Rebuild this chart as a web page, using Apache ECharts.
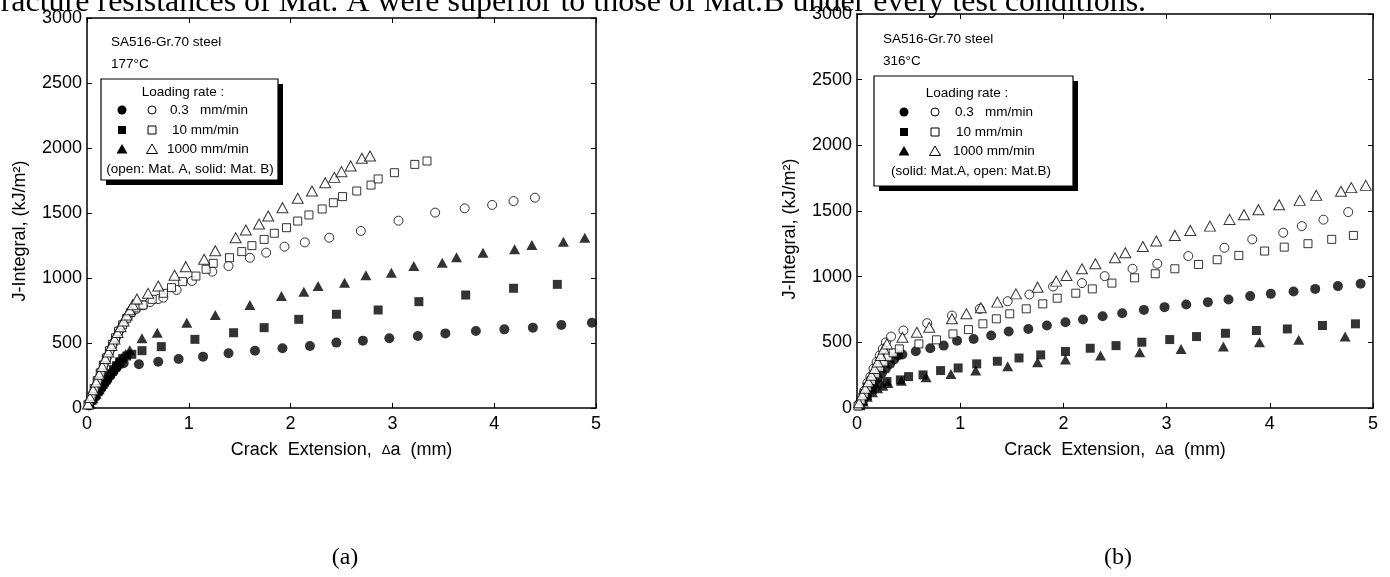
<!DOCTYPE html>
<html>
<head>
<meta charset="utf-8">
<script src="https://cdn.jsdelivr.net/npm/echarts@6/dist/echarts.min.js"></script>
<style>
  html, body { margin: 0; padding: 0; background: #fff; }
  #chart { width: 1390px; height: 577px; }
</style>
</head>
<body>
<div id="chart"></div>
<script>
// ---- Axis ticks ----
const xTicks = [0, 1, 2, 3, 4, 5];
const yTicks = [0, 500, 1000, 1500, 2000, 2500, 3000];

// ---- (a) 177 °C : open = Mat. A, solid = Mat. B ----  [crack extension (mm), J (kJ/m2)]
const t177_matA_03 = [
  [0.02,40],[0.05,100],[0.08,160],[0.11,220],[0.14,280],[0.17,340],[0.20,395],[0.23,450],
  [0.26,500],[0.29,550],[0.32,600],[0.36,650],[0.40,700],[0.44,740],[0.48,760],[0.55,790],
  [0.62,815],[0.70,838],[0.75,849],[0.88,908],[1.03,977],[1.23,1049],[1.39,1092],[1.60,1156],
  [1.76,1195],[1.94,1241],[2.14,1274],[2.38,1310],[2.69,1362],[3.06,1441],[3.42,1503],
  [3.71,1536],[3.98,1562],[4.19,1592],[4.40,1618]
];
const t177_matA_10 = [
  [0.01,25],[0.04,90],[0.07,150],[0.10,210],[0.13,270],[0.16,330],[0.19,385],[0.22,440],
  [0.25,490],[0.28,540],[0.31,590],[0.35,640],[0.39,690],[0.43,735],[0.48,770],[0.55,792],
  [0.64,836],[0.75,882],[0.83,926],[0.94,972],[1.07,1015],[1.17,1067],[1.24,1113],[1.40,1156],
  [1.52,1203],[1.62,1249],[1.74,1297],[1.84,1344],[1.96,1387],[2.07,1438],[2.18,1485],
  [2.31,1531],[2.42,1579],[2.51,1626],[2.65,1669],[2.79,1715],[2.86,1762],[3.02,1810],
  [3.22,1874],[3.34,1900]
];
const t177_matA_1000 = [
  [0.01,30],[0.03,80],[0.06,140],[0.09,200],[0.12,260],[0.15,320],[0.18,380],[0.21,430],
  [0.24,480],[0.27,530],[0.30,580],[0.33,625],[0.36,670],[0.39,715],[0.42,755],[0.45,795],
  [0.49,838],[0.60,882],[0.70,938],[0.86,1021],[0.97,1087],[1.15,1144],[1.26,1210],
  [1.46,1310],[1.56,1369],[1.69,1415],[1.78,1477],[1.92,1541],[2.07,1613],[2.21,1669],
  [2.34,1733],[2.43,1774],[2.50,1818],[2.59,1862],[2.70,1921],[2.78,1938]
];
const t177_matB_03 = [
  [0.02,20],[0.05,55],[0.08,85],[0.11,120],[0.14,150],[0.17,185],[0.20,215],[0.23,250],
  [0.26,280],[0.29,310],[0.32,335],[0.36,345],[0.51,336],[0.70,356],[0.90,377],[1.14,395],
  [1.39,421],[1.65,441],[1.92,459],[2.19,477],[2.45,503],[2.71,518],[2.97,536],[3.25,554],
  [3.52,574],[3.82,592],[4.10,605],[4.38,618],[4.66,638],[4.96,656]
];
const t177_matB_10 = [
  [0.02,25],[0.05,60],[0.08,95],[0.11,130],[0.14,165],[0.17,200],[0.20,235],[0.23,265],
  [0.26,295],[0.29,325],[0.32,355],[0.35,380],[0.39,400],[0.44,413],[0.54,441],[0.73,472],
  [1.06,528],[1.44,579],[1.74,618],[2.08,682],[2.45,721],[2.86,754],[3.26,818],[3.72,869],
  [4.19,921],[4.62,951],[5.01,977]
];
const t177_matB_1000 = [
  [0.03,35],[0.06,75],[0.09,110],[0.12,145],[0.15,185],[0.18,220],[0.21,255],[0.24,290],
  [0.27,325],[0.30,355],[0.34,385],[0.38,415],[0.42,445],[0.54,536],[0.69,579],[0.98,656],
  [1.26,715],[1.60,792],[1.91,862],[2.13,895],[2.27,938],[2.53,964],[2.74,1021],[2.99,1041],
  [3.21,1092],[3.49,1118],[3.63,1159],[3.89,1195],[4.20,1221],[4.37,1254],[4.68,1279],[4.89,1310]
];

// ---- (b) 316 °C : solid = Mat. A, open = Mat. B ----
const t316_matA_03 = [
  [0.04,50],[0.08,95],[0.12,140],[0.16,185],[0.20,225],[0.24,265],[0.28,300],[0.32,335],
  [0.36,370],[0.40,400],[0.44,407],[0.57,432],[0.71,455],[0.84,475],[0.97,513],[1.13,526],
  [1.30,552],[1.47,582],[1.66,602],[1.84,628],[2.02,653],[2.19,674],[2.38,699],[2.57,722],
  [2.78,747],[2.98,768],[3.19,788],[3.40,806],[3.60,826],[3.81,852],[4.01,869],[4.23,887],
  [4.44,907],[4.66,928],[4.88,946]
];
const t316_matA_10 = [
  [0.03,25],[0.06,55],[0.10,95],[0.15,140],[0.20,183],[0.29,201],[0.42,214],[0.50,239],
  [0.64,252],[0.81,285],[0.98,305],[1.16,336],[1.36,356],[1.57,381],[1.78,404],[2.02,430],
  [2.26,455],[2.51,475],[2.76,501],[3.03,521],[3.29,544],[3.57,569],[3.87,590],[4.17,602],
  [4.51,628],[4.83,641]
];
const t316_matA_1000 = [
  [0.03,20],[0.06,50],[0.10,85],[0.15,120],[0.20,150],[0.25,170],[0.30,190],[0.43,208],
  [0.67,234],[0.91,259],[1.15,285],[1.46,318],[1.75,348],[2.02,369],[2.36,399],[2.74,425],
  [3.14,450],[3.55,468],[3.90,501],[4.28,519],[4.73,544]
];
const t316_matB_03 = [
  [0.02,30],[0.04,80],[0.07,130],[0.10,190],[0.13,240],[0.16,300],[0.19,350],[0.22,400],
  [0.25,450],[0.28,500],[0.33,544],[0.45,590],[0.68,646],[0.92,704],[1.19,755],[1.46,813],
  [1.67,864],[1.90,925],[2.18,951],[2.40,1004],[2.67,1060],[2.91,1098],[3.21,1157],[3.56,1220],
  [3.83,1284],[4.13,1335],[4.31,1385],[4.52,1434],[4.76,1492],[5.01,1530]
];
const t316_matB_10 = [
  [0.01,15],[0.04,60],[0.07,110],[0.10,160],[0.14,210],[0.18,260],[0.22,310],[0.26,350],
  [0.30,390],[0.35,420],[0.41,450],[0.60,488],[0.77,519],[0.93,564],[1.08,597],[1.22,641],
  [1.35,679],[1.48,717],[1.64,755],[1.80,793],[1.94,836],[2.12,874],[2.28,907],[2.47,951],
  [2.69,991],[2.89,1022],[3.08,1060],[3.31,1093],[3.49,1129],[3.70,1162],[3.95,1195],
  [4.14,1225],[4.37,1251],[4.60,1284],[4.81,1314]
];
const t316_matB_1000 = [
  [0.02,40],[0.05,100],[0.08,150],[0.11,200],[0.14,250],[0.17,300],[0.20,350],[0.23,400],
  [0.26,450],[0.29,488],[0.44,539],[0.58,577],[0.70,615],[0.92,679],[1.06,717],[1.20,763],
  [1.36,806],[1.54,869],[1.75,920],[1.93,966],[2.03,1009],[2.18,1060],[2.31,1098],[2.50,1144],
  [2.60,1182],[2.77,1230],[2.90,1271],[3.08,1314],[3.23,1352],[3.42,1385],[3.61,1436],
  [3.75,1472],[3.89,1510],[4.09,1548],[4.29,1581],[4.45,1619],[4.69,1650],[4.79,1678],[4.93,1695]
];

const SANS = '"Liberation Sans", Arial, sans-serif';
const SERIF = '"Liberation Serif", "Times New Roman", serif';
const LEG_FONT = '13.5px ' + SANS;

const chart = echarts.init(document.getElementById('chart'), null, { renderer: 'canvas' });

const grids = [
  { left: 87, top: 18, width: 509, height: 390 },
  { left: 857, top: 14, width: 516, height: 394 }
];

function plain(v) { return String(v); }

function xAxisPair(g) {
  const base = {
    type: 'value', gridIndex: g, min: xTicks[0], max: xTicks[xTicks.length - 1], interval: 1,
    axisLine: { show: true, onZero: false, lineStyle: { color: '#000', width: 1.5 } },
    axisTick: { show: true, inside: true, length: 5, lineStyle: { color: '#000', width: 1 } },
    splitLine: { show: false }
  };
  return [
    Object.assign({}, base, {
      position: 'bottom',
      axisLabel: { color: '#000', fontSize: 18, fontFamily: SANS, margin: 7, formatter: plain },
      name: 'Crack  Extension,  {d|Δ}a  (mm)',
      nameLocation: 'middle', nameGap: 33,
      nameTextStyle: { color: '#000', fontSize: 18, fontFamily: SANS,
        rich: { d: { fontSize: 13, fontFamily: SANS, color: '#000' } } }
    }),
    Object.assign({}, base, { position: 'top', axisLabel: { show: false } })
  ];
}

function yAxisPair(g) {
  const base = {
    type: 'value', gridIndex: g, min: yTicks[0], max: yTicks[yTicks.length - 1], interval: 500,
    axisLine: { show: true, onZero: false, lineStyle: { color: '#000', width: 1.5 } },
    axisTick: { show: true, inside: true, length: 5, lineStyle: { color: '#000', width: 1 } },
    splitLine: { show: false }
  };
  return [
    Object.assign({}, base, {
      position: 'left',
      axisLabel: { color: '#000', fontSize: 18, fontFamily: SANS, margin: 5, formatter: plain },
      name: 'J-Integral, (kJ/m²)',
      nameLocation: 'middle', nameGap: 58, nameRotate: 90,
      nameTextStyle: { color: '#000', fontSize: 18, fontFamily: SANS, padding: [0, 36, 0, 0] }
    }),
    Object.assign({}, base, { position: 'right', axisLabel: { show: false } })
  ];
}

const openStyle = { color: '#fff', borderColor: '#000', borderWidth: 1 };
const solidStyle = { color: '#000', borderColor: '#000', borderWidth: 0 };

function scatter(data, g, symbol, size, open) {
  return {
    type: 'scatter', data: data,
    xAxisIndex: g * 2, yAxisIndex: g * 2,
    symbol: symbol, symbolSize: size,
    itemStyle: open ? openStyle : solidStyle,
    silent: true, z: open ? 3 : 2
  };
}

// legend artwork inside each panel
function legendBox(x, y, w, h, cx, rowsY, filledX, openX, textX, labels, note, noteX, headY, material, temp, tx, ty) {
  const els = [];
  els.push({ type: 'text', x: tx, y: ty, style: { text: material, font: LEG_FONT, fill: '#000', verticalAlign: 'middle' } });
  els.push({ type: 'text', x: tx, y: ty + 22, style: { text: temp, font: LEG_FONT, fill: '#000', verticalAlign: 'middle' } });
  els.push({ type: 'rect', shape: { x: x + 5, y: y + 5, width: w, height: h }, style: { fill: '#000' }, z: 10 });
  els.push({ type: 'rect', shape: { x: x, y: y, width: w, height: h }, style: { fill: '#fff', stroke: '#000', lineWidth: 1.2 }, z: 11 });
  els.push({ type: 'text', x: cx, y: headY, style: { text: 'Loading rate :', font: LEG_FONT, fill: '#000', align: 'center', verticalAlign: 'middle' }, z: 12 });
  const shapes = ['circle', 'rect', 'triangle'];
  rowsY.forEach(function (ry, i) {
    [[filledX, true], [openX, false]].forEach(function (p) {
      const sx = p[0], solid = p[1];
      const st = solid ? { fill: '#000' } : { fill: '#fff', stroke: '#000', lineWidth: 1 };
      let el;
      if (shapes[i] === 'circle') el = { type: 'circle', shape: { cx: sx, cy: ry, r: solid ? 4.5 : 4 }, style: st };
      else if (shapes[i] === 'rect') el = { type: 'rect', shape: { x: sx - 4, y: ry - 4, width: 8, height: 8 }, style: st };
      else el = { type: 'polygon', shape: { points: [[sx, ry - 5], [sx - 5.5, ry + 4.5], [sx + 5.5, ry + 4.5]] }, style: st };
      el.z = 12;
      els.push(el);
    });
    els.push({ type: 'text', x: textX[i], y: ry, style: { text: labels[i], font: LEG_FONT, fill: '#000', verticalAlign: 'middle' }, z: 12 });
  });
  els.push({ type: 'text', x: noteX, y: rowsY[2] + 20, style: { text: note, font: LEG_FONT, fill: '#000', align: 'center', verticalAlign: 'middle' }, z: 12 });
  return els;
}

const rateLabels = ['0.3   mm/min', '10 mm/min', '1000 mm/min'];

const graphics = [].concat(
  [{
    type: 'text', x: -10, y: 3,
    style: { text: 'fracture resistances of Mat. A were superior to those of Mat.B under every test conditions.',
      font: '32px ' + SERIF, fill: '#000', verticalAlign: 'middle' }, z: 20
  },
  { type: 'text', x: 345, y: 558, style: { text: '(a)', font: '24px ' + SERIF, fill: '#000', align: 'center', verticalAlign: 'middle' } },
  { type: 'text', x: 1118, y: 558, style: { text: '(b)', font: '24px ' + SERIF, fill: '#000', align: 'center', verticalAlign: 'middle' } }],
  legendBox(101, 79, 177, 101, 183, [110, 130, 149], 122, 152, [170, 172, 167], rateLabels,
    '(open: Mat. A, solid: Mat. B)', 190, 92, 'SA516-Gr.70 steel', '177°C', 111, 42),
  legendBox(874, 76, 199, 110, 967, [112, 132, 151], 904, 935, [955, 956, 953], rateLabels,
    '(solid: Mat.A, open: Mat.B)', 971, 93, 'SA516-Gr.70 steel', '316°C', 883, 39)
);

const option = {
  animation: false,
  backgroundColor: '#fff',
  grid: grids,
  xAxis: xAxisPair(0).concat(xAxisPair(1)),
  yAxis: yAxisPair(0).concat(yAxisPair(1)),
  series: [
    scatter(t177_matB_03, 0, 'circle', 10, false),
    scatter(t177_matB_10, 0, 'rect', 9, false),
    scatter(t177_matB_1000, 0, 'triangle', [11, 10], false),
    scatter(t177_matA_03, 0, 'circle', 9, true),
    scatter(t177_matA_10, 0, 'rect', 8, true),
    scatter(t177_matA_1000, 0, 'triangle', [11, 10], true),
    scatter(t316_matA_03, 1, 'circle', 10, false),
    scatter(t316_matA_10, 1, 'rect', 9, false),
    scatter(t316_matA_1000, 1, 'triangle', [11, 10], false),
    scatter(t316_matB_03, 1, 'circle', 9, true),
    scatter(t316_matB_10, 1, 'rect', 8, true),
    scatter(t316_matB_1000, 1, 'triangle', [11, 10], true)
  ],
  graphic: graphics
};

chart.setOption(option);
</script>
</body>
</html>
